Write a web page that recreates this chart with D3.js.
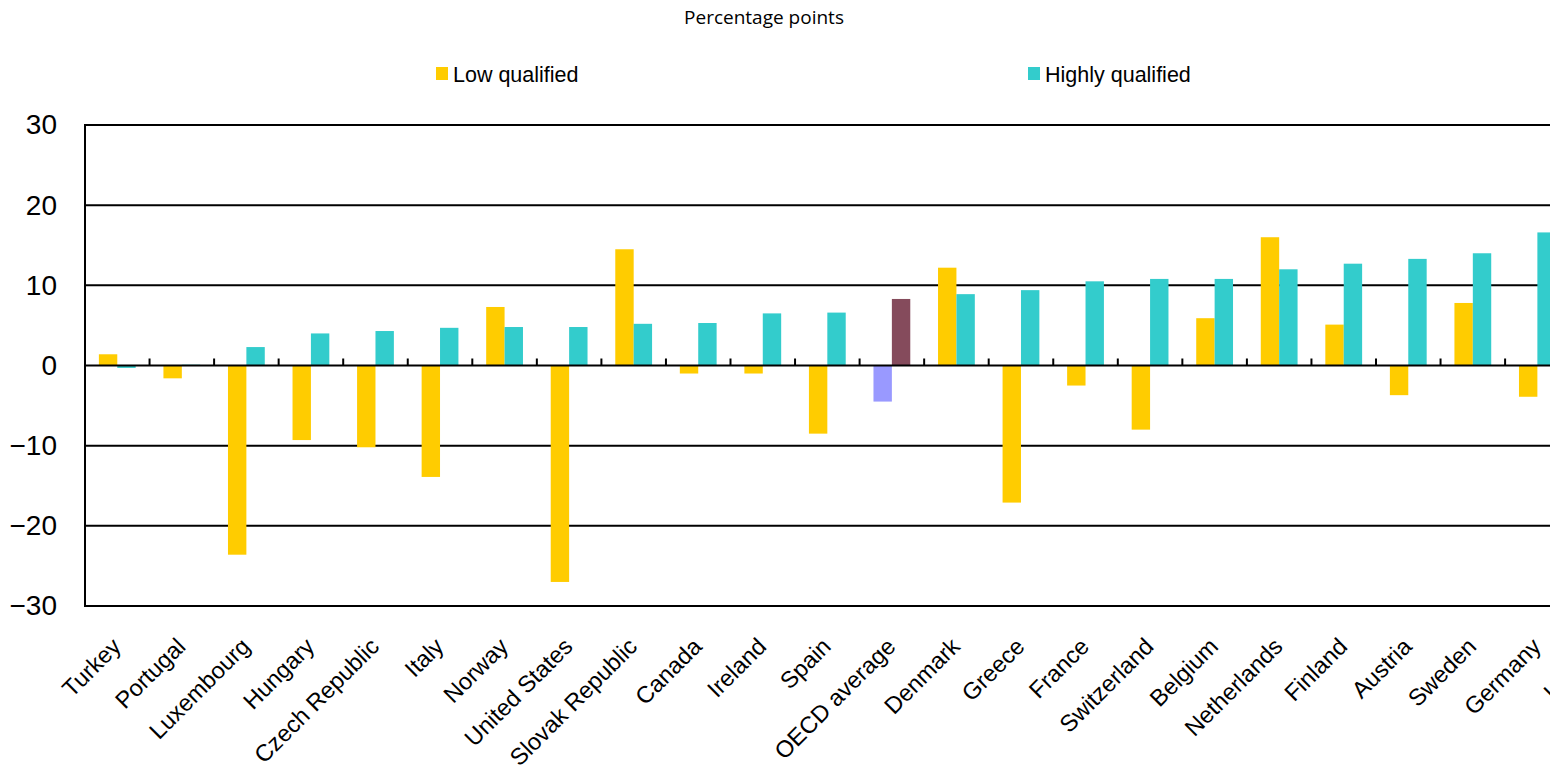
<!DOCTYPE html>
<html>
<head>
<meta charset="utf-8">
<script src="https://cdn.jsdelivr.net/npm/d3@7"></script>
<style>
  html, body { margin: 0; padding: 0; background: #fff; overflow: hidden; }
  svg { display: block; }
</style>
</head>
<body>
<svg id="chart" width="1550" height="769"></svg>
<script>
// ---- data ----
const categories = ["Turkey", "Portugal", "Luxembourg", "Hungary", "Czech Republic", "Italy", "Norway",
  "United States", "Slovak Republic", "Canada", "Ireland", "Spain", "OECD average", "Denmark", "Greece",
  "France", "Switzerland", "Belgium", "Netherlands", "Finland", "Austria", "Sweden", "Germany", "Iceland"];
const lowQualified = [1.4, -1.6, -23.6, -9.3, -10.2, -13.9, 7.3, -27.0, 14.5, -1.0, -1.0, -8.5, -4.5, 12.2,
  -17.1, -2.5, -8.0, 5.9, 16.0, 5.1, -3.7, 7.8, -3.9, null];
const highlyQualified = [-0.3, 0.1, 2.3, 4.0, 4.3, 4.7, 4.8, 4.8, 5.2, 5.3, 6.5, 6.6, 8.3, 8.9, 9.4, 10.5,
  10.8, 10.8, 12.0, 12.7, 13.3, 14.0, 16.6, null];
const seriesNames = ["Low qualified", "Highly qualified"];
const yTicks = [-30, -20, -10, 0, 10, 20, 30];
const titleText = "Percentage points";

// ---- layout ----
const svg = d3.select("#chart");
const plotLeft = 85, step = 64.55;
const plotRight = plotLeft + step * categories.length;
const plotTop = 125, plotBottom = 606;

const y = d3.scaleLinear().domain([-30, 30]).range([plotBottom, plotTop]);
const xCat = d3.scaleBand().domain(categories).range([plotLeft, plotRight]).padding(0);
const x0 = d3.scaleBand().domain(categories).range([plotLeft, plotRight]).paddingInner(0.43).paddingOuter(0.215);
const x1 = d3.scaleBand().domain(["low", "high"]).range([0, x0.bandwidth()]).padding(0);

const colors = { low: "#FFCC00", high: "#33CCCC" };
const oecdColors = { low: "#9999FF", high: "#854B5C" };

// title
svg.append("text").attr("x", 764).attr("y", 23.5).attr("text-anchor", "middle")
  .attr("font-family", "'Open Sans', sans-serif").attr("font-size", 19).attr("fill", "#000")
  .text(titleText);

// legend
const legendPos = [{ x: 436, key: "low" }, { x: 1028, key: "high" }];
legendPos.forEach((p, i) => {
  svg.append("rect").attr("x", p.x).attr("y", 67).attr("width", 12).attr("height", 13).attr("fill", colors[p.key]);
  svg.append("text").attr("x", p.x + 17).attr("y", 81.5)
    .attr("font-family", "'Liberation Sans', Arial, sans-serif").attr("font-size", 21.5).attr("fill", "#000")
    .text(seriesNames[i]);
});

// gridlines
const grid = svg.append("g");
yTicks.filter(t => t !== 0).forEach(t => {
  grid.append("line").attr("x1", plotLeft).attr("x2", plotRight).attr("y1", y(t)).attr("y2", y(t))
    .attr("stroke", "#000").attr("stroke-width", 2);
});

// y axis labels
const yAxis = d3.axisLeft(y).tickValues(yTicks).tickSize(0).tickPadding(28).tickFormat(d3.format("d"));
const yg = svg.append("g").attr("transform", `translate(${plotLeft},0)`).call(yAxis);
yg.select(".domain").remove();
yg.selectAll("text").attr("font-family", "'Liberation Sans', Arial, sans-serif").attr("font-size", 28).attr("fill", "#000");

// bars
const rows = categories.map((c, i) => ({ c, low: lowQualified[i], high: highlyQualified[i] }));
const groups = svg.append("g").selectAll("g").data(rows).join("g")
  .attr("transform", d => `translate(${x0(d.c)},0)`);
groups.selectAll("rect")
  .data(d => ["low", "high"].filter(k => d[k] !== null).map(k => ({ k, v: d[k], c: d.c })))
  .join("rect")
  .attr("x", d => x1(d.k))
  .attr("width", x1.bandwidth())
  .attr("y", d => y(Math.max(0, d.v)))
  .attr("height", d => Math.abs(y(d.v) - y(0)))
  .attr("fill", d => d.c === "OECD average" ? oecdColors[d.k] : colors[d.k]);

// left axis line
svg.append("line").attr("x1", plotLeft).attr("x2", plotLeft).attr("y1", plotTop - 1).attr("y2", plotBottom + 1)
  .attr("stroke", "#000").attr("stroke-width", 2);

// zero axis with category boundary ticks
svg.append("line").attr("x1", plotLeft).attr("x2", plotRight).attr("y1", y(0)).attr("y2", y(0))
  .attr("stroke", "#000").attr("stroke-width", 2);
svg.append("g").selectAll("line").data(categories.slice(1)).join("line")
  .attr("x1", d => xCat(d)).attr("x2", d => xCat(d))
  .attr("y1", y(0)).attr("y2", y(0) - 7)
  .attr("stroke", "#000").attr("stroke-width", 2);

// category labels
svg.append("g").selectAll("text").data(categories).join("text")
  .attr("transform", d => `translate(${x0(d) + x0.bandwidth() / 2 + 5},${648}) rotate(-45)`)
  .attr("text-anchor", "end")
  .attr("font-family", "'Liberation Sans', Arial, sans-serif").attr("font-size", 23.5).attr("fill", "#000")
  .text(d => d);
</script>
</body>
</html>
